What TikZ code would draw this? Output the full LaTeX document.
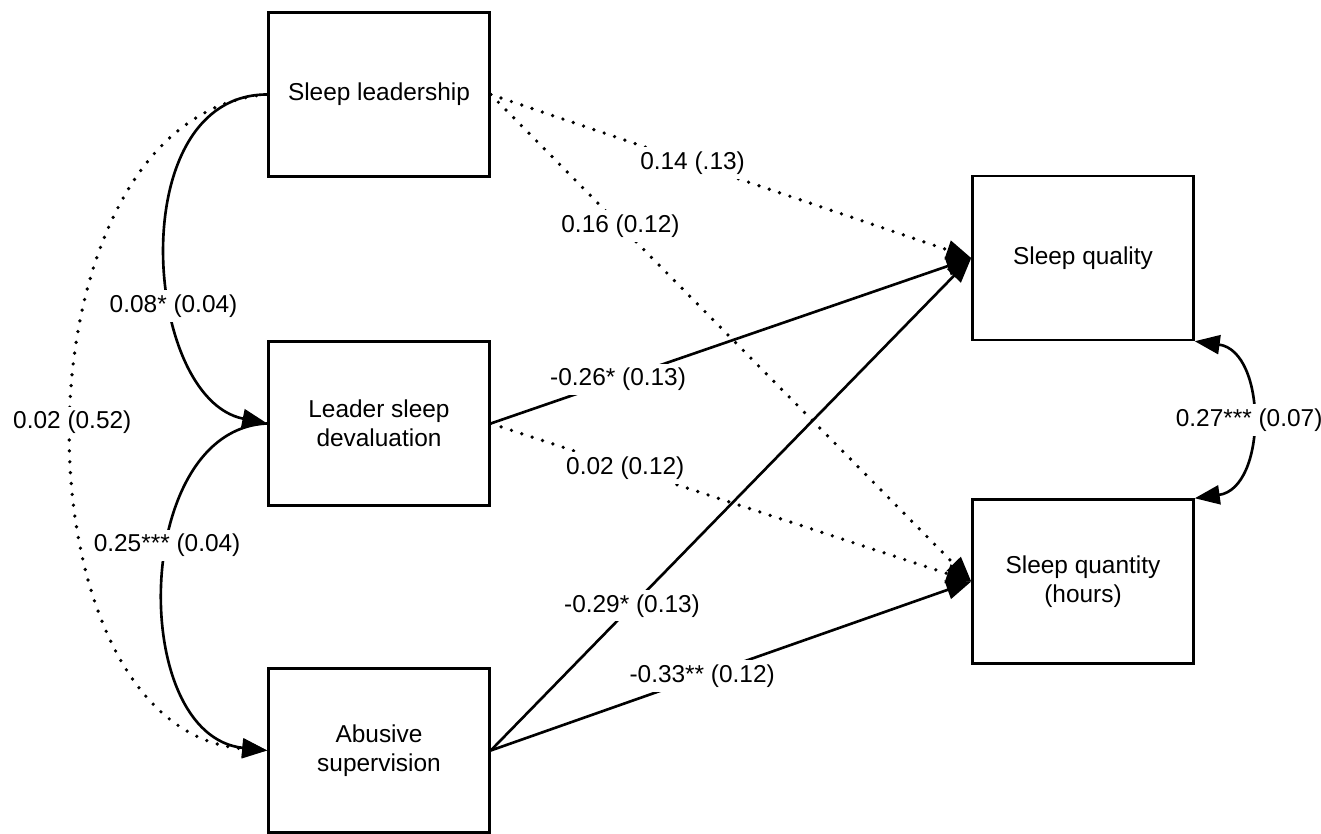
\documentclass[tikz,border=0pt]{standalone}
\usepackage{fontspec}
\setmainfont{Liberation Sans}
\usetikzlibrary{arrows.meta,positioning}

\begin{document}
\begin{tikzpicture}[
    >={Triangle[length=0.5cm,width=0.38cm]},
    font=\fontsize{13.9}{16.6}\selectfont,
    box/.style={draw, line width=1.4pt, minimum width=4.42cm, minimum height=3.28cm, align=center},
    effect/.style={->, line width=1.5pt},
    dotline/.style={->, line width=2.1pt, dash pattern=on 0pt off 6.2pt, line cap=round},
    coef/.style={fill=white, inner sep=2.5pt}
]
    \useasboundingbox (0,0) rectangle (26.42,16.66);

    % Predictors
    \node[box] (lead) at (7.58,14.77) {Sleep leadership};
    \node[box] (deval) at (7.58,8.19) {Leader sleep\\devaluation};
    \node[box] (abuse) at (7.58,1.65) {Abusive\\supervision};

    % Outcomes
    \node[box] (qual) at (21.66,11.5) {Sleep quality};
    \node[box] (quant) at (21.66,5.03) {Sleep quantity\\(hours)};

    % Links among predictors
    \draw[dotline] (lead.west) .. controls +(-5.2,-0.4) and +(-5.2,0.4) .. (abuse.west) node[coef, pos=0.5] {0.02 (0.52)};
    \draw[effect] (lead.west) .. controls +(-2.9,0) and +(-2.5,0.5) .. (deval.west) node[coef, pos=0.62] {0.08* (0.04)};
    \draw[effect] (deval.west) .. controls +(-2.7,-0.1) and +(-2.8,0.3) .. (abuse.west) node[coef, pos=0.42] {0.25*** (0.04)};

    % Paths to outcomes
    \draw[dotline] (lead.east) -- (qual.west) node[coef, pos=0.42] {0.14 (.13)};
    \draw[dotline] (lead.east) -- (quant.west) node[coef, pos=0.27] {0.16 (0.12)};
    \draw[effect] (deval.east) -- (qual.west) node[coef, pos=0.265] {-0.26* (0.13)};
    \draw[dotline] (deval.east) -- (quant.west) node[coef, pos=0.28] {0.02 (0.12)};
    \draw[effect] (abuse.east) -- (qual.west) node[coef, pos=0.294] {-0.29* (0.13)};
    \draw[effect] (abuse.east) -- (quant.west) node[coef, pos=0.44] {-0.33** (0.12)};

    % Outcome covariance
    \draw[effect, <->] (qual.south east) .. controls +(1.45,-0.2) and +(1.45,0.2) .. (quant.north east) node[coef, pos=0.5] {0.27*** (0.07)};
\end{tikzpicture}
\end{document}
